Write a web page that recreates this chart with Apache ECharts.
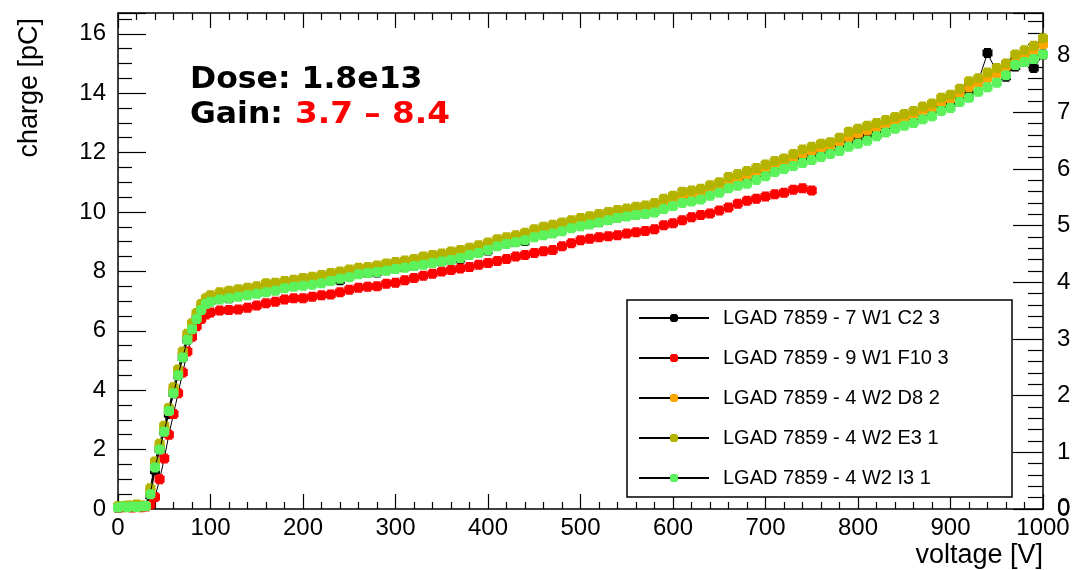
<!DOCTYPE html>
<html>
<head>
<meta charset="utf-8">
<script src="https://cdn.jsdelivr.net/npm/echarts@6/dist/echarts.min.js"></script>
<style>
  html, body { margin: 0; padding: 0; background: #fff; }
  #chart { width: 1075px; height: 570px; }
</style>
</head>
<body>
<div id="chart"></div>
<script>
// bias voltage [V]
const volt = [0,5,10,15,20,25,30,35,40,45,50,55,60,65,70,75,80,85,90,95,100,
  110,120,130,140,150,160,170,180,190,200,
  210,220,230,240,250,260,270,280,290,300,
  310,320,330,340,350,360,370,380,390,400,
  410,420,430,440,450,460,470,480,490,500,
  510,520,530,540,550,560,570,580,590,600,
  610,620,630,640,650,660,670,680,690,700,
  710,720,730,740,750,760,770,780,790,800,
  810,820,830,840,850,860,870,880,890,900,
  910,920,930,940,950,960,970,980,990,1000]

// charge [pC] per sensor
const c2 = [0.05,0.08,0.1,0.08,0.1,0.08,0.1,0.45,1.3,2.0,2.6,3.2,3.9,4.5,5.1,5.7,6.05,6.4,6.7,6.95,7.0,
  7.1,7.1,7.18,7.25,7.3,7.35,7.4,7.5,7.52,7.6,
  7.62,7.68,7.72,7.7,7.85,7.92,7.95,7.96,8.05,8.1,
  8.15,8.2,8.25,8.3,8.35,8.4,8.42,8.6,8.68,8.7,
  8.88,8.95,9.0,9.02,9.2,9.25,9.32,9.4,9.5,9.55,
  9.62,9.66,9.75,9.82,9.88,9.92,9.96,10.05,10.2,10.28,
  10.38,10.42,10.5,10.62,10.72,10.88,10.96,11.1,11.2,11.32,
  11.44,11.52,11.68,11.75,11.9,12.0,12.08,12.2,12.4,12.5,
  12.6,12.62,12.8,12.88,13.0,13.1,13.25,13.3,13.55,13.65,
  13.85,14.05,14.4,15.35,14.7,14.55,14.9,15.1,14.85,15.3]

const f10 = [0.05,0.06,0.08,0.05,0.08,0.06,0.08,0.15,0.4,1.0,1.7,2.5,3.2,3.9,4.6,5.3,5.8,6.15,6.4,6.55,6.62,
  6.68,6.7,6.72,6.78,6.85,6.93,6.98,7.05,7.1,7.1,
  7.15,7.2,7.22,7.3,7.38,7.45,7.48,7.5,7.58,7.62,
  7.7,7.78,7.85,7.92,8.0,8.05,8.1,8.15,8.22,8.28,
  8.35,8.42,8.5,8.55,8.62,8.68,8.72,8.85,8.95,9.05,
  9.1,9.15,9.18,9.22,9.28,9.32,9.36,9.42,9.55,9.62,
  9.72,9.82,9.9,9.95,10.05,10.15,10.28,10.38,10.45,10.52,
  10.6,10.65,10.75,10.8,10.72]

const d8 = [0.08,0.1,0.1,0.12,0.1,0.12,0.1,0.6,1.5,2.1,2.7,3.3,4.0,4.6,5.2,5.8,6.15,6.5,6.8,7.0,7.1,
  7.18,7.22,7.28,7.32,7.38,7.45,7.5,7.55,7.6,7.65,
  7.7,7.75,7.82,7.88,7.92,7.98,8.02,8.08,8.14,8.2,
  8.25,8.3,8.36,8.42,8.48,8.54,8.6,8.68,8.76,8.85,
  8.95,9.02,9.1,9.18,9.28,9.36,9.44,9.52,9.6,9.68,
  9.74,9.8,9.88,9.95,10.0,10.06,10.1,10.18,10.32,10.42,
  10.52,10.6,10.66,10.78,10.88,11.02,11.12,11.24,11.34,11.46,
  11.58,11.66,11.8,11.95,12.05,12.15,12.22,12.36,12.52,12.64,
  12.74,12.84,12.95,13.05,13.15,13.25,13.38,13.5,13.68,13.8,
  13.98,14.2,14.32,14.5,14.65,14.82,15.1,15.25,15.4,15.65]

const e3 = [0.08,0.1,0.12,0.1,0.15,0.12,0.1,0.7,1.6,2.2,2.8,3.4,4.1,4.7,5.3,5.9,6.25,6.6,6.9,7.1,7.2,
  7.3,7.35,7.4,7.45,7.5,7.6,7.62,7.68,7.72,7.78,
  7.82,7.88,7.95,8.0,8.06,8.12,8.15,8.2,8.27,8.32,
  8.37,8.42,8.5,8.55,8.6,8.67,8.72,8.8,8.88,8.97,
  9.08,9.15,9.22,9.3,9.42,9.5,9.57,9.65,9.72,9.8,
  9.86,9.93,10.0,10.07,10.12,10.18,10.22,10.3,10.45,10.55,
  10.68,10.72,10.78,10.9,11.0,11.18,11.28,11.38,11.48,11.6,
  11.72,11.8,11.95,12.1,12.2,12.3,12.35,12.5,12.7,12.8,
  12.9,13.0,13.1,13.2,13.3,13.4,13.55,13.65,13.85,13.95,
  14.15,14.4,14.5,14.7,14.85,15.0,15.3,15.45,15.6,15.85]

const i3 = [0.05,0.08,0.06,0.08,0.07,0.08,0.1,0.5,1.4,2.0,2.6,3.3,3.9,4.5,5.1,5.7,6.05,6.4,6.7,6.9,6.98,
  7.05,7.1,7.15,7.2,7.25,7.3,7.35,7.43,7.48,7.52,
  7.55,7.6,7.68,7.75,7.8,7.9,7.95,7.98,8.02,8.08,
  8.12,8.18,8.22,8.28,8.33,8.38,8.45,8.55,8.62,8.72,
  8.85,8.92,8.98,9.05,9.15,9.22,9.28,9.35,9.45,9.52,
  9.58,9.65,9.72,9.8,9.85,9.9,9.93,9.98,10.1,10.2,
  10.3,10.35,10.42,10.55,10.65,10.8,10.88,10.95,11.08,11.2,
  11.35,11.45,11.55,11.65,11.75,11.85,11.95,12.05,12.2,12.3,
  12.4,12.55,12.68,12.8,12.9,13.0,13.12,13.22,13.4,13.5,
  13.7,13.85,14.05,14.2,14.35,14.6,14.95,15.05,15.15,15.3]

const names = ['LGAD 7859 - 7 W1 C2 3', 'LGAD 7859 - 9 W1 F10 3', 'LGAD 7859 - 4 W2 D8 2',
  'LGAD 7859 - 4 W2 E3 1', 'LGAD 7859 - 4 W2 I3 1']
const values = [c2, f10, d8, e3, i3]
const colors = ['#000000', '#ff0000', '#ffa500', '#b3b300', '#5cf25c']

const marker = 'path://M1.5,0H8.5V1.5H10V8.5H8.5V10H1.5V8.5H0V1.5H1.5Z'
const labelFont = { fontFamily: 'Liberation Sans', fontSize: 24, color: '#000' }

const chart = echarts.init(document.getElementById('chart'))

const series = names.map((n, k) => ({
  name: n,
  type: 'line',
  data: values[k].map((q, i) => [volt[i], q]),
  symbol: marker,
  symbolSize: 10,
  showAllSymbol: true,
  itemStyle: { color: colors[k] },
  lineStyle: { color: '#000', width: 1 },
  z: 2 + k
}))

const frameLine = { show: true, onZero: false, lineStyle: { color: '#000', width: 1.5 } }

const option = {
  animation: false,
  backgroundColor: '#fff',
  grid: { left: 118, right: 32, top: 13, bottom: 61 },
  xAxis: [{
    type: 'value', min: 0, max: 1000, interval: 100, position: 'bottom',
    axisLine: frameLine,
    axisTick: { inside: true, length: 15, lineStyle: { color: '#000', width: 1.2 } },
    minorTick: { show: true, splitNumber: 5, length: 7, lineStyle: { color: '#000', width: 1.2 } },
    splitLine: { show: false },
    axisLabel: { ...labelFont, margin: 7, formatter: v => String(v) }
  }, {
    type: 'value', min: 0, max: 1000, interval: 100, position: 'top',
    axisLine: frameLine,
    axisTick: { inside: true, length: 15, lineStyle: { color: '#000', width: 1.2 } },
    minorTick: { show: true, splitNumber: 5, length: 7, lineStyle: { color: '#000', width: 1.2 } },
    splitLine: { show: false },
    axisLabel: { show: false }
  }],
  yAxis: [{
    type: 'value', min: 0, max: 16.7, interval: 2, position: 'left',
    axisLine: frameLine,
    axisTick: { inside: true, length: 28, lineStyle: { color: '#000', width: 1.2 } },
    minorTick: { show: true, splitNumber: 4, length: 14, lineStyle: { color: '#000', width: 1.2 } },
    splitLine: { show: false },
    axisLabel: { ...labelFont, margin: 12, showMaxLabel: false }
  }, {
    type: 'value', min: 0, max: 8.75, interval: 1, position: 'right',
    axisLine: frameLine,
    axisTick: { inside: true, length: 30, lineStyle: { color: '#000', width: 1.2 } },
    minorTick: { show: true, splitNumber: 5, length: 15, lineStyle: { color: '#000', width: 1.2 } },
    splitLine: { show: false },
    axisLabel: { ...labelFont, margin: 14, showMaxLabel: false }
  }],
  legend: {
    orient: 'vertical',
    left: 638, top: 308,
    itemWidth: 70, itemHeight: 10, itemGap: 20,
    padding: 0,
    z: 10,
    selectedMode: false,
    textStyle: { fontFamily: 'Liberation Sans', fontSize: 20, color: '#000', padding: [0, 0, 0, 9] },
    data: names
  },
  graphic: {
    elements: [
      { type: 'rect', z: 9, shape: { x: 627, y: 300, width: 385, height: 197 },
        style: { fill: '#fff', stroke: '#000', lineWidth: 1.5 } },
      { type: 'text', x: 190, y: 80, z: 10, scaleX: 1.05,
        style: { text: 'Dose: 1.8e13', font: 'bold 30px "DejaVu Sans"', fill: '#000', verticalAlign: 'middle' } },
      { type: 'text', x: 190, y: 115, z: 10, scaleX: 1.05,
        style: { text: 'Gain:', font: 'bold 30px "DejaVu Sans"', fill: '#000', verticalAlign: 'middle' } },
      { type: 'text', x: 295, y: 115, z: 10, scaleX: 1.09,
        style: { text: '3.7 \u2013 8.4', font: 'bold 30px "DejaVu Sans"', fill: '#ff0000', verticalAlign: 'middle' } },
      // right-axis zero label (the axis drops it where it meets the x labels)
      { type: 'text', left: 1057, top: 496, z: 10,
        style: { text: '0', font: '24px "Liberation Sans"', fill: '#000' } },
      { type: 'text', x: 30, y: 18, rotation: Math.PI / 2, z: 10,
        style: { text: 'charge [pC]', font: '27px "Liberation Sans"', fill: '#000', align: 'right', verticalAlign: 'middle' } },
      { type: 'text', x: 1043, y: 556, z: 10,
        style: { text: 'voltage [V]', font: '27px "Liberation Sans"', fill: '#000', align: 'right', verticalAlign: 'middle' } }
    ]
  },
  series: series
}

chart.setOption(option)
</script>
</body>
</html>
